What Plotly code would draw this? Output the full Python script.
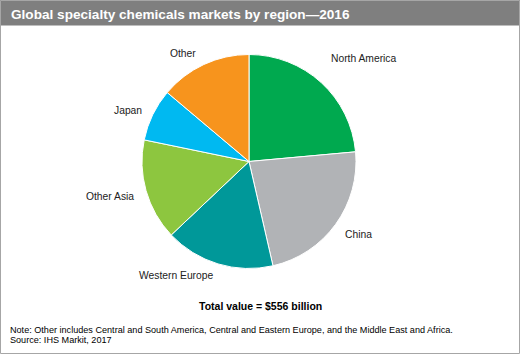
import plotly.graph_objects as go

regions = ["North America", "China", "Western Europe", "Other Asia", "Japan", "Other"]
values_bn = [131, 127, 92, 85, 44, 77]
colors = ["#00A94F", "#B1B3B6", "#009899", "#8DC63F", "#00B9F1", "#F7941D"]

title = "Global specialty chemicals markets by region\u20142016"
total_text = "Total value = $556 billion"
note_text = "Note: Other includes Central and South America, Central and Eastern Europe, and the Middle East and Africa."
source_text = "Source: IHS Markit, 2017"

W, H = 520, 354
FONT = "Liberation Sans, Arial, sans-serif"

# label placement (pixel centres), style only
label_pos = [(363.5, 59), (358, 234), (175.5, 275), (110, 196), (127.5, 110), (182.5, 53)]

fig = go.Figure()
fig.add_trace(go.Pie(
    labels=regions,
    values=values_bn,
    sort=False,
    direction="clockwise",
    rotation=0,
    marker=dict(colors=colors, line=dict(color="white", width=1)),
    textinfo="none",
    showlegend=False,
    hoverinfo="label+value",
    domain=dict(x=[(249 - 107) / W, (249 + 107) / W], y=[1 - 268.5 / H, 1 - 54.5 / H]),
))

def px_y(y):
    return 1 - y / H

shapes = [
    dict(type="rect", xref="paper", yref="paper", x0=0, x1=1, y0=px_y(25.5), y1=1,
         fillcolor="#7F7F7F", line=dict(width=0), layer="below"),
    dict(type="rect", xref="paper", yref="paper", x0=0.5 / W, x1=1 - 0.5 / W, y0=0.5 / H, y1=1 - 0.5 / H,
         fillcolor="rgba(0,0,0,0)", line=dict(color="#A6A6A6", width=1)),
]

annotations = [
    dict(text="<b>" + title + "</b>", x=9 / W, y=px_y(14.5), xref="paper", yref="paper",
         xanchor="left", yanchor="middle", showarrow=False,
         font=dict(family=FONT, size=13.6, color="white")),
    dict(text="<b>" + total_text + "</b>", x=260.5 / W, y=px_y(305.5), xref="paper", yref="paper",
         xanchor="center", yanchor="middle", showarrow=False,
         font=dict(family=FONT, size=10.5, color="black")),
    dict(text=note_text, x=8 / W, y=px_y(329.5), xref="paper", yref="paper",
         xanchor="left", yanchor="middle", showarrow=False,
         font=dict(family=FONT, size=9.1, color="black")),
    dict(text=source_text, x=8 / W, y=px_y(339.5), xref="paper", yref="paper",
         xanchor="left", yanchor="middle", showarrow=False,
         font=dict(family=FONT, size=9.1, color="black")),
]

for name, (lx, ly) in zip(regions, label_pos):
    annotations.append(dict(text=name, x=lx / W, y=px_y(ly), xref="paper", yref="paper",
                            xanchor="center", yanchor="middle", showarrow=False,
                            font=dict(family=FONT, size=10.3, color="#222222")))

fig.update_layout(
    width=W, height=H,
    margin=dict(l=0, r=0, t=0, b=0),
    paper_bgcolor="white",
    plot_bgcolor="white",
    shapes=shapes,
    annotations=annotations,
    font=dict(family=FONT),
)

fig.write_html("out.html")
